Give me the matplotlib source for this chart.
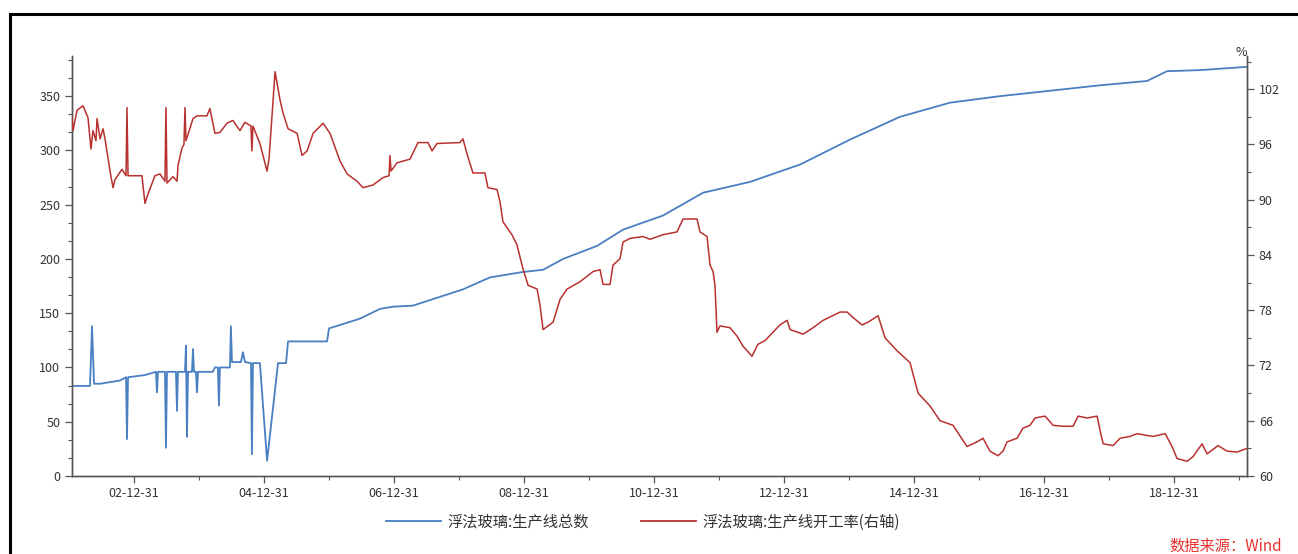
import numpy as np
import pandas as pd
import matplotlib
matplotlib.use("Agg")
import matplotlib.pyplot as plt
import matplotlib.dates as mdates
from matplotlib.ticker import MultipleLocator
from matplotlib.lines import Line2D
from matplotlib.patches import Rectangle

plt.rcParams['font.family'] = ['Noto Sans CJK SC', 'DejaVu Sans']

# ---- data (time as decimal years) ----
lines_years = [2002.046, 2002.323, 2002.354, 2002.385, 2002.477, 2002.785, 2002.877, 2002.892, 2002.908,
               2003.169, 2003.338, 2003.354, 2003.369, 2003.477, 2003.492, 2003.508, 2003.646, 2003.662,
               2003.677, 2003.785, 2003.800, 2003.815, 2003.831, 2003.892, 2003.908, 2003.923, 2003.954,
               2003.969, 2003.985, 2004.215, 2004.246, 2004.292, 2004.308, 2004.323, 2004.477, 2004.492,
               2004.508, 2004.646, 2004.677, 2004.708, 2004.800, 2004.815, 2004.831, 2004.938, 2005.046,
               2005.215, 2005.338, 2005.369, 2005.969, 2006.000, 2006.477, 2006.785, 2006.985, 2007.292,
               2007.754, 2008.062, 2008.477, 2008.985, 2009.292, 2009.600, 2010.123, 2010.523, 2011.138,
               2011.754, 2012.477, 2013.246, 2014.015, 2014.785, 2015.554, 2016.323, 2017.092, 2017.862,
               2018.585, 2018.892, 2019.400, 2020.123]
lines_total = [83, 83, 138, 85, 85, 88, 91, 34, 91,
               93, 96, 77, 96, 96, 26, 96, 96, 60,
               96, 96, 120, 36, 96, 96, 117, 96, 96,
               77, 96, 96, 100, 100, 65, 100, 100, 138,
               105, 105, 114, 105, 104, 20, 104, 104, 14,
               104, 104, 124, 124, 136, 145, 154, 156, 157,
               166, 172, 183, 188, 190, 200, 212, 227, 240,
               261, 271, 287, 310, 331, 344, 350, 355, 360,
               364, 373, 374, 377]

rate_years = [2002.046, 2002.062, 2002.123, 2002.215, 2002.292, 2002.338, 2002.369, 2002.415, 2002.431,
              2002.477, 2002.523, 2002.554, 2002.631, 2002.677, 2002.708, 2002.815, 2002.877, 2002.892,
              2002.908, 2003.123, 2003.169, 2003.215, 2003.323, 2003.400, 2003.477, 2003.492, 2003.508,
              2003.600, 2003.662, 2003.677, 2003.738, 2003.769, 2003.785, 2003.800, 2003.908, 2003.969,
              2004.123, 2004.169, 2004.246, 2004.323, 2004.431, 2004.523, 2004.631, 2004.708, 2004.800,
              2004.815, 2004.831, 2004.938, 2005.046, 2005.077, 2005.169, 2005.246, 2005.292, 2005.369,
              2005.508, 2005.585, 2005.662, 2005.754, 2005.908, 2006.015, 2006.169, 2006.277, 2006.431,
              2006.523, 2006.677, 2006.831, 2006.923, 2006.938, 2006.954, 2007.046, 2007.246, 2007.369,
              2007.523, 2007.585, 2007.662, 2008.015, 2008.062, 2008.123, 2008.215, 2008.400, 2008.446,
              2008.585, 2008.631, 2008.677, 2008.815, 2008.892, 2008.985, 2009.062, 2009.200, 2009.246,
              2009.292, 2009.446, 2009.554, 2009.662, 2009.862, 2010.062, 2010.169, 2010.215, 2010.323,
              2010.369, 2010.477, 2010.523, 2010.631, 2010.831, 2010.938, 2011.138, 2011.354, 2011.446,
              2011.662, 2011.708, 2011.815, 2011.862, 2011.908, 2011.938, 2011.969, 2012.015, 2012.169,
              2012.277, 2012.369, 2012.508, 2012.600, 2012.708, 2012.938, 2013.046, 2013.092, 2013.292,
              2013.446, 2013.600, 2013.862, 2013.969, 2014.062, 2014.200, 2014.292, 2014.446, 2014.554,
              2014.738, 2014.938, 2015.062, 2015.246, 2015.400, 2015.600, 2015.815, 2015.969, 2016.062,
              2016.169, 2016.292, 2016.369, 2016.431, 2016.585, 2016.677, 2016.785, 2016.862, 2017.015,
              2017.138, 2017.292, 2017.446, 2017.523, 2017.662, 2017.815, 2017.862, 2017.908, 2018.062,
              2018.169, 2018.323, 2018.431, 2018.585, 2018.677, 2018.862, 2018.969, 2019.046, 2019.200,
              2019.292, 2019.431, 2019.508, 2019.677, 2019.815, 2019.969, 2020.123]
rate_values = [98.9, 97.5, 99.7, 100.2, 98.9, 95.5, 97.5, 96.4, 98.8,
               96.6, 97.7, 96.6, 93.1, 91.3, 92.2, 93.3, 92.6, 100.0,
               92.6, 92.6, 89.6, 90.6, 92.6, 92.8, 92.0, 100.0, 91.8,
               92.5, 92.0, 93.7, 95.6, 96.0, 100.0, 96.4, 98.8, 99.1,
               99.1, 99.9, 97.2, 97.3, 98.3, 98.6, 97.5, 98.4, 98.0,
               95.3, 98.0, 96.1, 93.1, 94.5, 103.9, 100.8, 99.4, 97.7,
               97.2, 94.8, 95.3, 97.2, 98.3, 97.2, 94.2, 92.8, 92.0,
               91.3, 91.6, 92.4, 92.6, 94.8, 93.1, 94.0, 94.4, 96.2,
               96.2, 95.3, 96.1, 96.2, 96.6, 95.0, 92.9, 92.9, 91.3,
               91.1, 89.8, 87.6, 86.2, 85.1, 82.5, 80.7, 80.3, 78.5,
               75.9, 76.7, 79.2, 80.3, 81.1, 82.2, 82.4, 80.8, 80.8,
               82.9, 83.6, 85.4, 85.8, 86.0, 85.7, 86.2, 86.5, 87.9,
               87.9, 86.5, 86.0, 82.9, 82.2, 80.7, 75.6, 76.3, 76.1,
               75.2, 74.1, 73.0, 74.3, 74.7, 76.4, 76.9, 75.9, 75.4,
               76.1, 76.9, 77.8, 77.8, 77.2, 76.4, 76.7, 77.4, 75.0,
               73.6, 72.3, 69.0, 67.6, 66.0, 65.5, 63.2, 63.7, 64.1,
               62.7, 62.2, 62.7, 63.7, 64.1, 65.2, 65.5, 66.3, 66.5,
               65.5, 65.4, 65.4, 66.5, 66.3, 66.5, 64.9, 63.5, 63.3,
               64.1, 64.3, 64.6, 64.4, 64.3, 64.6, 63.2, 61.9, 61.6,
               62.1, 63.5, 62.4, 63.3, 62.7, 62.6, 63.0]

tick_years = list(range(2002, 2020, 2))
label_blue = '浮法玻璃:生产线总数'
label_red = '浮法玻璃:生产线开工率(右轴)'
source_text = '数据来源：Wind'


def to_dates(years):
    out = []
    for y in years:
        yi = int(np.floor(y))
        start = pd.Timestamp(year=yi, month=1, day=1)
        out.append(start + pd.Timedelta(days=(y - yi) * 365.25))
    return pd.to_datetime(out)


d_blue = to_dates(lines_years)
d_red = to_dates(rate_years)

BLUE = '#4a7fc1'
RED = '#b8312f'
TXT = '#333333'
SPINE = '#555555'

W, H = 1298, 554
fig = plt.figure(figsize=(W / 100, H / 100), dpi=100)
ax = fig.add_axes([72 / W, 1 - 476 / H, (1247 - 72) / W, (476 - 56) / H])
ax2 = ax.twinx()

ax.plot(d_blue, lines_total, color=BLUE, lw=1.3, zorder=3)
ax2.plot(d_red, rate_values, color=RED, lw=1.1, zorder=3)

ax.set_xlim(to_dates([2002.046])[0], to_dates([2020.123])[0])
ax.set_ylim(0, 387)
ax2.set_ylim(60, 105.6)

maj = [pd.Timestamp(year=y, month=12, day=31) for y in tick_years]
mnr = [pd.Timestamp(year=y + 1, month=12, day=31) for y in tick_years]
ax.set_xticks(maj)
ax.set_xticks(mnr, minor=True)
ax.xaxis.set_major_formatter(mdates.DateFormatter('%y-%m-%d'))

ax.yaxis.set_major_locator(MultipleLocator(50))
ax.yaxis.set_minor_locator(MultipleLocator(50 / 3))
ax2.yaxis.set_major_locator(MultipleLocator(6))
ax2.yaxis.set_minor_locator(MultipleLocator(3))

for a in (ax, ax2):
    a.spines['top'].set_visible(False)
    for s in ('left', 'right', 'bottom'):
        a.spines[s].set_color(SPINE)
        a.spines[s].set_linewidth(1.0)
    a.tick_params(which='major', labelsize=9, colors=SPINE, labelcolor=TXT, length=5, width=0.9)
    a.tick_params(which='minor', colors=SPINE, length=3, width=0.8)
ax.tick_params(axis='x', which='major', pad=3)
ax.tick_params(axis='x', which='minor', length=3)

fig.text(1247 / W, 1 - 52 / H, '%', fontsize=9, color=TXT, ha='right', va='center')

handles = [Line2D([], [], color=BLUE, lw=1.3), Line2D([], [], color=RED, lw=1.3)]
fig.legend(handles, [label_blue, label_red], loc='center', bbox_to_anchor=(643 / W, 1 - 522 / H),
           ncol=2, frameon=False, fontsize=11, handlelength=3.6, columnspacing=3.4,
           handletextpad=0.4, labelcolor=TXT)

fig.text(1282 / W, 1 - 546 / H, source_text, fontsize=11, color='#e8332e', style='italic',
         ha='right', va='center')

fig.add_artist(Rectangle((10 / W, -0.05), (W + 20) / W, 1.05 - 14 / H,
                         transform=fig.transFigure, fill=False, edgecolor='black', lw=2.2))

fig.savefig('out.png', dpi=100, facecolor='white')
